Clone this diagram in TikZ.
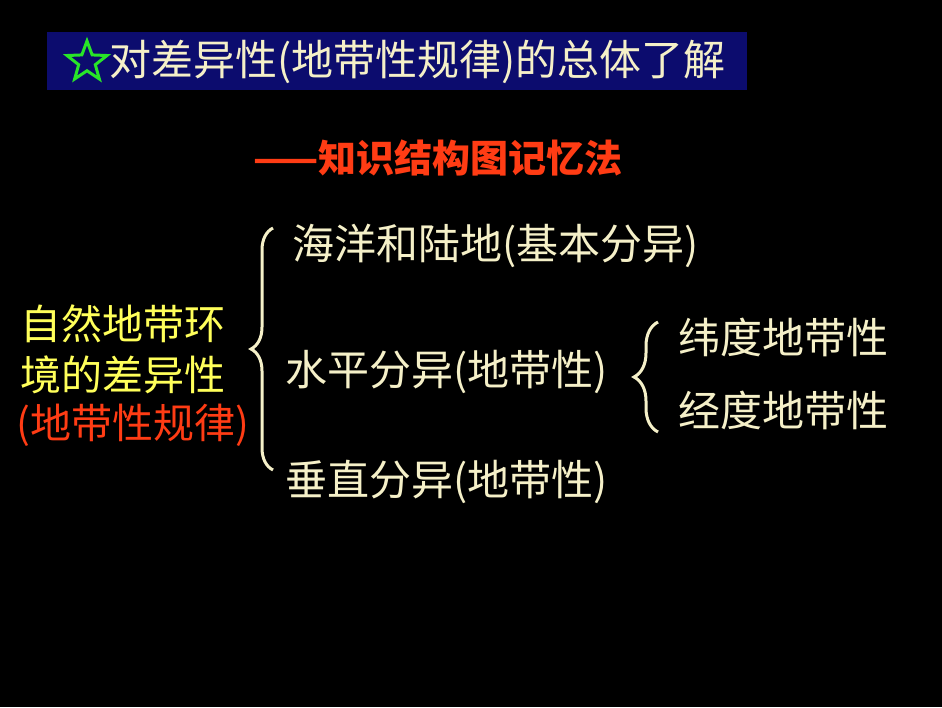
\documentclass[tikz,border=0pt]{standalone}
\usepackage{fontspec}
\setmainfont{Noto Sans CJK SC}
\usetikzlibrary{shapes.geometric,decorations.pathreplacing}
\definecolor{cream}{RGB}{245,240,200}
\definecolor{navy}{RGB}{12,12,110}
\definecolor{redo}{RGB}{255,60,20}
\definecolor{yel}{RGB}{255,255,90}
\definecolor{grn}{RGB}{40,230,40}
\tikzset{
  txt/.style={inner sep=0pt, anchor=west, text=cream, font=\fontsize{42}{46}\selectfont},
  lefttxt/.style={inner sep=0pt, font=\fontsize{41}{45}\selectfont},
  bracestyle/.style={draw=cream, line width=3pt, decorate, decoration={brace, amplitude=#1}},
}
\begin{document}
\begin{tikzpicture}[x=1pt,y=-1pt]
\fill[black] (0,0) rectangle (942,707);
\useasboundingbox (0,0) rectangle (942,707);
% title box
\node[fill=navy, minimum width=700pt, minimum height=58pt, inner sep=0pt, anchor=north west] (titlebox) at (47,32) {};
\node[star, star points=5, star point ratio=2.4, draw=grn, line width=3pt, fill=navy, minimum size=42pt, inner sep=0pt] (star) at (87,62) {};
\node[inner sep=0pt, anchor=west, text=cream, font=\fontsize{42}{46}\selectfont] (title) at (109,62) {对差异性(地带性规律)的总体了解};
% subtitle
\node[inner sep=0pt, anchor=west, text=redo, font=\bfseries\fontsize{38}{42}\selectfont] (sub) at (253,158) {——知识结构图记忆法};
% left text
\node[lefttxt, text=yel] (l1) at (123,324) {自然地带环};
\node[lefttxt, text=yel] (l2) at (123,375) {境的差异性};
\node[lefttxt, text=redo] (l3) at (133,425) {(地带性规律)};
% big brace
\coordinate (bb) at (273,470);
\coordinate (bt) at (273,228);
\draw[bracestyle=22pt] (bb) -- (bt);
% branches
\node[txt] (a) at (292,246) {海洋和陆地(基本分异)};
\node[txt] (b) at (285,372) {水平分异(地带性)};
\node[txt] (c) at (285,482) {垂直分异(地带性)};
% small brace
\coordinate (sb) at (658,432);
\coordinate (st) at (658,322);
\draw[bracestyle=24pt] (sb) -- (st);
\node[txt] (d) at (678,337) {纬度地带性};
\node[txt] (e) at (678,410) {经度地带性};
\end{tikzpicture}
\end{document}
